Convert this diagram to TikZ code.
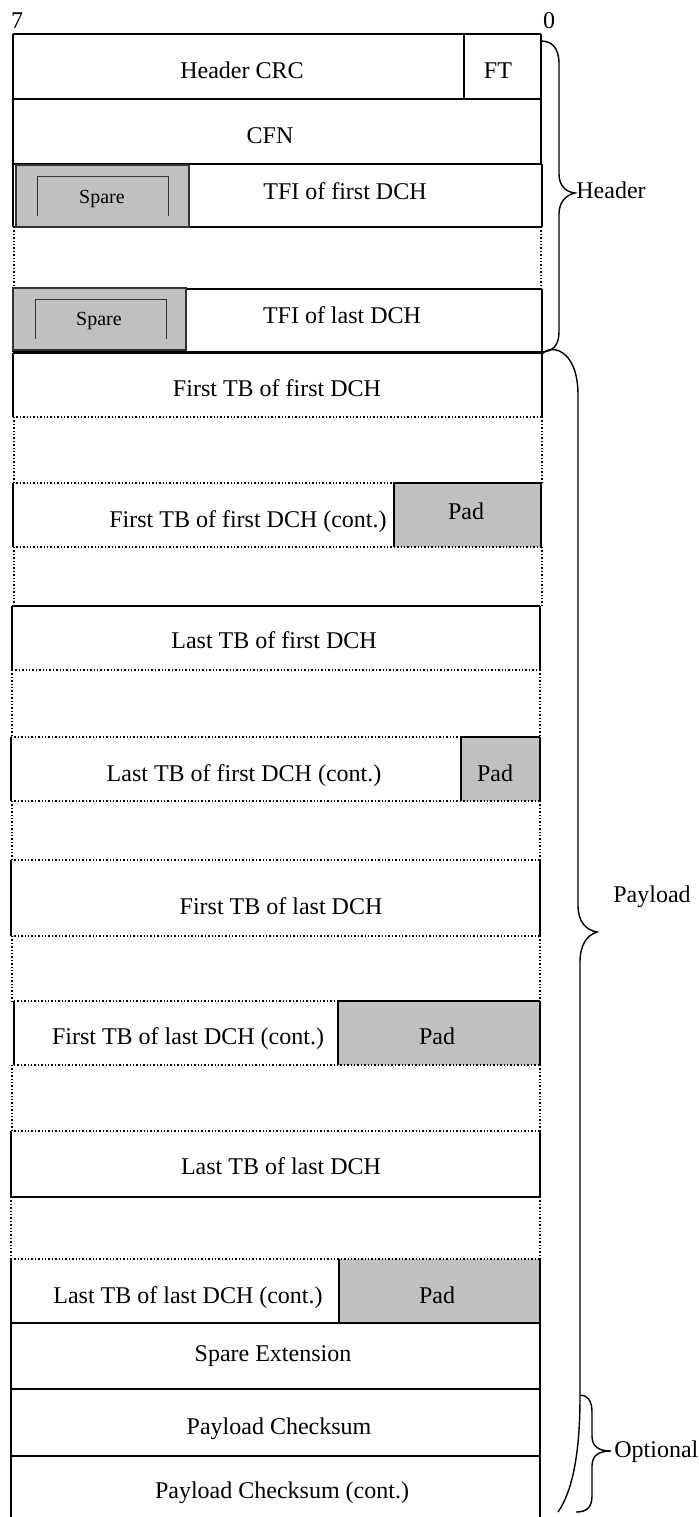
\documentclass[tikz,border=0pt]{standalone}
\usepackage{fontspec}
\setmainfont{Liberation Serif}
\definecolor{padgray}{RGB}{192,192,192}
\newcommand{\pktrow}[6]{%
  \draw[cell] (#1,#2) -- (#1,#4);
  \draw[cell] (#3,#2) -- (#3,#4);
  \draw[#5] (#1,#2) -- (#3,#2);
  \draw[#6] (#1,#4) -- (#3,#4);}
\newcommand{\pktgap}[4]{%
  \draw[dotedge] (#1,#2) -- (#1,#4);
  \draw[dotedge] (#3,#2) -- (#3,#4);}
\begin{document}
\begin{tikzpicture}[x=0.5pt,y=-0.5pt,
  cell/.style={draw=black,line width=0.7pt},
  dotedge/.style={draw=black,line width=0.7pt,densely dotted},
  txt/.style={anchor=base,inner sep=0pt,font=\fontsize{12}{14}\selectfont},
  sparetxt/.style={anchor=base,inner sep=0pt,font=\fontsize{10}{12}\selectfont},
  lbl/.style={anchor=base west,inner sep=0pt,font=\fontsize{12}{14}\selectfont},
  padfill/.style={fill=padgray},
  sparebox/.style={fill=padgray,draw=black!80,line width=0.7pt},
  bracket/.style={draw=black!80,line width=0.5pt},
  brace/.style={draw=black,line width=0.7pt}]
\useasboundingbox (0,0) rectangle (699,1517);
\node[txt] (b7) at (17,28) {7};
\node[txt] (b0) at (549,28) {0};
% Header CRC / FT
\pktrow{13}{34}{541}{99}{cell}{cell}
\draw[cell] (464,34) -- (464,99);
\node[txt] (hcrc) at (242,78) {Header CRC};
\node[txt] (ft) at (498,78) {FT};
% CFN
\pktrow{13}{99}{541}{164}{cell}{cell}
\node[txt] (cfn) at (270,143) {CFN};
% TFI first
\pktrow{13}{164}{542}{227}{cell}{cell}
\draw[sparebox] (16,165) rectangle (189,227);
\draw[bracket] (37,216) -- (37,176) -- (168,176) -- (168,216);
\node[sparetxt] (sp1) at (102,203) {Spare};
\node[txt] (tfi1) at (345,199) {TFI of first DCH};
\pktgap{14}{227}{541}{289}
% TFI last
\pktrow{13}{289}{542}{352}{cell}{cell}
\draw[sparebox] (13,288) rectangle (186,350);
\draw[bracket] (35,339) -- (35,299) -- (166,299) -- (166,339);
\node[sparetxt] (sp2) at (99,325) {Spare};
\node[txt] (tfi2) at (342,323) {TFI of last DCH};
% First TB of first DCH
\pktrow{13}{353}{542}{417}{cell}{dotedge}
\node[txt] (tb1) at (277,396) {First TB of first DCH};
\pktgap{14}{417}{542}{483}
% cont + pad
\fill[padfill] (394,483) rectangle (541,547);
\pktrow{13}{483}{541}{547}{dotedge}{dotedge}
\draw[cell] (394,547) -- (394,483) -- (541,483);
\node[txt] (tb1c) at (248,527) {First TB of first DCH (cont.)};
\node[txt] (pad1) at (466,519) {Pad};
\pktgap{14}{547}{542}{606}
% Last TB of first DCH
\pktrow{12}{606}{540}{670}{cell}{dotedge}
\node[txt] (tb2) at (274,648) {Last TB of first DCH};
\pktgap{12}{670}{540}{737}
\fill[padfill] (461,737) rectangle (540,801);
\pktrow{11}{737}{540}{801}{dotedge}{dotedge}
\draw[cell] (461,801) -- (461,737) -- (540,737);
\node[txt] (tb2c) at (244,781) {Last TB of first DCH (cont.)};
\node[txt] (pad2) at (495,781) {Pad};
\pktgap{12}{801}{540}{860}
% First TB of last DCH
\pktrow{11}{860}{540}{936}{dotedge}{dotedge}
\node[txt] (tb3) at (281,914) {First TB of last DCH};
\pktgap{12}{936}{540}{1001}
\fill[padfill] (338,1001) rectangle (540,1065);
\pktrow{14}{1001}{540}{1065}{dotedge}{dotedge}
\draw[cell] (338,1065) -- (338,1001) -- (540,1001);
\node[txt] (tb3c) at (188,1044) {First TB of last DCH (cont.)};
\node[txt] (pad3) at (437,1044) {Pad};
\pktgap{12}{1065}{540}{1131}
% Last TB of last DCH
\pktrow{11}{1131}{540}{1197}{dotedge}{cell}
\node[txt] (tb4) at (281,1174) {Last TB of last DCH};
\pktgap{11}{1197}{540}{1259}
\fill[padfill] (339,1259) rectangle (540,1323);
\pktrow{11}{1259}{540}{1323}{dotedge}{cell}
\draw[cell] (339,1259) -- (339,1323);
\node[txt] (tb4c) at (188,1303) {Last TB of last DCH (cont.)};
\node[txt] (pad4) at (437,1303) {Pad};
% Spare extension, checksum
\pktrow{11}{1323}{540}{1389}{cell}{cell}
\node[txt] (spext) at (273,1361) {Spare Extension};
\pktrow{11}{1389}{540}{1456}{cell}{cell}
\node[txt] (pcs) at (279,1434) {Payload Checksum};
\draw[cell] (11,1456) -- (11,1517);
\draw[cell] (540,1456) -- (540,1517);
\node[txt] (pcsc) at (282,1498) {Payload Checksum (cont.)};
% Braces
\coordinate (hbt) at (541,41);
\coordinate (hbb) at (541,352);
\coordinate (hbtip) at (575,193);
\draw[brace] (hbt) .. controls (552,41) and (559,48) .. (559,64) -- (559,174) .. controls (559,186) and (566,192) .. (hbtip) .. controls (566,195) and (559,202) .. (559,214) -- (559,332) .. controls (559,346) and (552,352) .. (hbb);
\node[lbl] (hdr) at (576,198) {Header};
\coordinate (pbt) at (542,354);
\coordinate (pbtip) at (597,932);
\coordinate (pbb) at (558,1512);
\draw[brace] (pbt) .. controls (550,344) and (578,348) .. (578,395) -- (578,905) .. controls (578,922) and (586,930) .. (pbtip) .. controls (587,935) and (580,945) .. (580,962) -- (580,1397) .. controls (580,1455) and (572,1492) .. (pbb);
\node[lbl] (pl) at (613,902) {Payload};
\coordinate (obt) at (580,1395);
\coordinate (obtip) at (611,1451);
\coordinate (obb) at (576,1512);
\draw[brace] (obt) .. controls (587,1395) and (592,1400) .. (592,1412) -- (592,1436) .. controls (592,1446) and (598,1451) .. (obtip) .. controls (598,1451) and (592,1456) .. (592,1466) -- (592,1496) .. controls (592,1508) and (586,1512) .. (obb);
\node[lbl] (opt) at (614,1457) {Optional};
\end{tikzpicture}
\end{document}
